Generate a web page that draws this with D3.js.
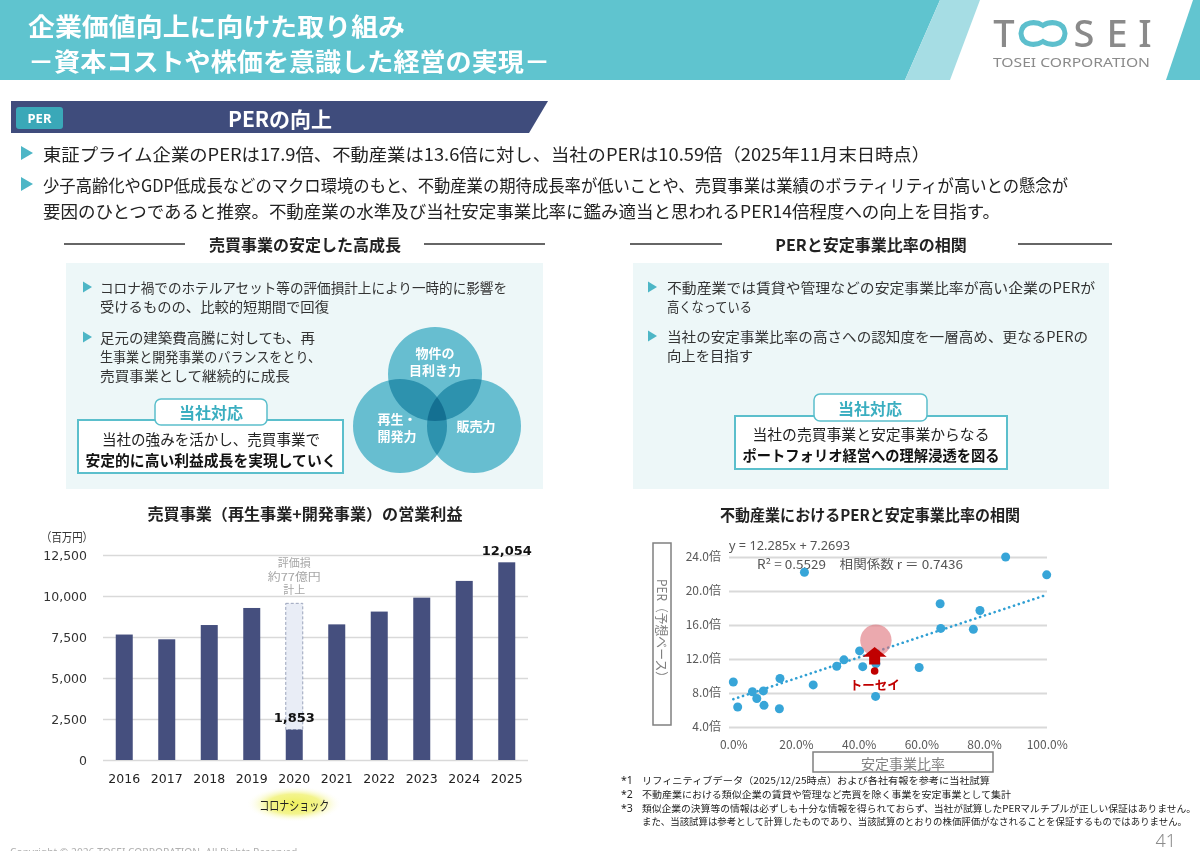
<!DOCTYPE html>
<html><head><meta charset="utf-8">
<script src="https://cdn.jsdelivr.net/npm/d3@7"></script>
<style>html,body{margin:0;padding:0;background:#fff;overflow:hidden}svg{display:block}</style>
</head><body>
<svg id="c" width="1200" height="851"></svg>
<script>
// ---------------- data ----------------
const barYears = ["2016","2017","2018","2019","2020","2021","2022","2023","2024","2025"];
const barValues = [7650, 7360, 8230, 9270, 1853, 8270, 9050, 9900, 10920, 12054];
const barYTicks = [0, 2500, 5000, 7500, 10000, 12500];
const impairment2020 = 7700;
const barLabelYears = ["2020", "2025"];

const stableRatio = [0.000,0.014,0.061,0.075,0.096,0.098,0.149,0.147,0.227,0.255,0.330,0.353,0.403,0.413,0.455,0.454,0.593,0.660,0.662,0.766,0.787,0.869,1.000];
const perValues   = [9.3, 6.35, 8.15, 7.35, 8.25, 6.55, 9.7, 6.15, 22.2, 8.95, 11.15, 11.9, 12.95, 11.1, 11.45, 7.6, 11.0, 18.5, 15.6, 15.5, 17.7, 24.0, 21.9];
const tosei = {stable: 0.451, per: 10.59, targetPer: 14.2};
const trendSlope = 12.285, trendIntercept = 7.2693;
const perTicks = [4, 8, 12, 16, 20, 24];
const stableTicks = [0, 0.2, 0.4, 0.6, 0.8, 1.0];

const JP = "'Noto Sans CJK JP','Noto Sans',sans-serif";
const NUM = "'DejaVu Sans',Verdana,sans-serif";
const svg = d3.select("#c");

function txt(p, s, x, y, o = {}) {
  const t = p.append("text").attr("x", x).attr("y", y).text(s)
    .attr("font-family", o.ff || JP).attr("font-size", o.fs || 14)
    .attr("fill", o.fill || "#222").attr("font-weight", o.fw || 400)
    .attr("text-anchor", o.anchor || "start").attr("dominant-baseline", o.db || "central");
  if (o.len) t.attr("textLength", o.len).attr("lengthAdjust", "spacingAndGlyphs");
  return t;
}
function tri(p, x, y, w, h, c) {
  p.append("path").attr("d", `M${x},${y-h/2}L${x+w},${y}L${x},${y+h/2}Z`).attr("fill", c);
}

// ---------------- header ----------------
svg.append("path").attr("d","M0,0L940,0L905,80L0,80Z").attr("fill","#5fc4cf");
svg.append("path").attr("d","M940,0L980,0L950,80L905,80Z").attr("fill","#a6dde4");
svg.append("path").attr("d","M1193,0L1200,0L1200,80L1166,80Z").attr("fill","#62c5d0");
txt(svg,"企業価値向上に向けた取り組み",28,25,{fs:25,fw:700,fill:"#fff",len:377});
txt(svg,"－資本コストや株価を意識した経営の実現－",28,60,{fs:25,fw:700,fill:"#fff",len:522});
// logo
const logo = svg.append("g");
[["T",1004],["S",1084],["E",1117],["I",1145]].forEach(([l,x]) =>
  txt(logo,l,x,47,{ff:"'Noto Sans',sans-serif",fs:38,fw:500,fill:"#8a8a8a",anchor:"middle",db:"alphabetic"}));
logo.append("path").attr("d","M1043,25.5C1037,21.5 1022,20 1021,33.5C1022,47 1037,45.5 1043,41.5C1049,45.5 1064,47 1065,33.5C1064,20 1049,21.5 1043,25.5Z")
  .attr("fill","none").attr("stroke","#5dbfcd").attr("stroke-width",5);
txt(logo,"TOSEI CORPORATION",993,62,{ff:"'Noto Sans',sans-serif",fs:12.5,fill:"#8a8a8a",len:157});

// ---------------- section banner ----------------
svg.append("path").attr("d","M11,101L548,101L529,133L11,133Z").attr("fill","#3f4c7c");
svg.append("rect").attr("x",16).attr("y",107).attr("width",47).attr("height",22).attr("rx",3).attr("fill","#3aa8b8");
txt(svg,"PER",39.5,118,{ff:"'Noto Sans',sans-serif",fs:13,fw:700,fill:"#fff",anchor:"middle"});
txt(svg,"PERの向上",280,118,{fs:21,fw:700,fill:"#fff",anchor:"middle"});

// top bullets
tri(svg,21,153,12,14,"#4db6c6");
txt(svg,"東証プライム企業のPERは17.9倍、不動産業は13.6倍に対し、当社のPERは10.59倍（2025年11月末日時点）",43,153,{fs:17.5,len:887});
tri(svg,21,184,12,14,"#4db6c6");
txt(svg,"少子高齢化やGDP低成長などのマクロ環境のもと、不動産業の期待成長率が低いことや、売買事業は業績のボラティリティが高いとの懸念が",43,184,{fs:17.5,len:1025});
txt(svg,"要因のひとつであると推察。不動産業の水準及び当社安定事業比率に鑑み適当と思われるPER14倍程度への向上を目指す。",43,210,{fs:17.5,len:957});

// section headings
[[64,185],[424,545],[630,722],[1018,1112]].forEach(([a,b]) =>
  svg.append("line").attr("x1",a).attr("x2",b).attr("y1",244).attr("y2",244).attr("stroke","#333").attr("stroke-width",1.5));
txt(svg,"売買事業の安定した高成長",305,244,{fs:16,fw:700,anchor:"middle"});
txt(svg,"PERと安定事業比率の相関",871,244,{fs:16,fw:700,anchor:"middle"});

// panels
svg.append("rect").attr("x",66).attr("y",263).attr("width",477).attr("height",226).attr("fill","#edf7f8");
svg.append("rect").attr("x",633).attr("y",263).attr("width",476).attr("height",226).attr("fill","#edf7f8");

// left panel text
tri(svg,83,287,9,11,"#4db6c6");
txt(svg,"コロナ禍でのホテルアセット等の評価損計上により一時的に影響を",100,287,{fs:14,fill:"#333",len:407});
txt(svg,"受けるものの、比較的短期間で回復",100,306,{fs:14,fill:"#333",len:229});
tri(svg,83,337,9,11,"#4db6c6");
txt(svg,"足元の建築費高騰に対しても、再",100,337,{fs:14,fill:"#333",len:215});
txt(svg,"生事業と開発事業のバランスをとり、",100,356,{fs:14,fill:"#333",len:221});
txt(svg,"売買事業として継続的に成長",100,375,{fs:14,fill:"#333",len:190});

// venn
const venn = svg.append("g");
[[435,374],[400,426],[474,426]].forEach(([cx,cy]) =>
  venn.append("circle").attr("cx",cx).attr("cy",cy).attr("r",47).attr("fill","#6fc4d6").style("mix-blend-mode","multiply"));
txt(svg,"物件の",435,352,{fs:13,fw:700,fill:"#fff",anchor:"middle"});
txt(svg,"目利き力",435,369,{fs:13,fw:700,fill:"#fff",anchor:"middle"});
txt(svg,"再生・",397,418,{fs:13,fw:700,fill:"#fff",anchor:"middle"});
txt(svg,"開発力",397,435,{fs:13,fw:700,fill:"#fff",anchor:"middle"});
txt(svg,"販売力",476,425,{fs:13,fw:700,fill:"#fff",anchor:"middle"});

// left response box
svg.append("rect").attr("x",78).attr("y",420).attr("width",265).attr("height",53).attr("fill","#fff").attr("stroke","#5bbfcc").attr("stroke-width",2);
svg.append("rect").attr("x",155).attr("y",399).attr("width",112).attr("height",26).attr("rx",6).attr("fill","#fff").attr("stroke","#5bbfcc").attr("stroke-width",1.5);
txt(svg,"当社対応",211,412,{fs:16,fw:700,fill:"#3aaec0",anchor:"middle"});
txt(svg,"当社の強みを活かし、売買事業で",211,438,{fs:15,fill:"#222",anchor:"middle",len:218});
txt(svg,"安定的に高い利益成長を実現していく",211,459,{fs:15,fw:700,fill:"#111",anchor:"middle",len:251});

// right panel text
tri(svg,648,287,9,11,"#4db6c6");
txt(svg,"不動産業では賃貸や管理などの安定事業比率が高い企業のPERが",667,287,{fs:14,fill:"#333",len:428});
txt(svg,"高くなっている",667,306,{fs:14,fill:"#333",len:85});
tri(svg,648,336,9,11,"#4db6c6");
txt(svg,"当社の安定事業比率の高さへの認知度を一層高め、更なるPERの",667,336,{fs:14,fill:"#333",len:421});
txt(svg,"向上を目指す",667,355,{fs:14,fill:"#333",len:86});

svg.append("rect").attr("x",735).attr("y",416).attr("width",272).attr("height",53).attr("fill","#fff").attr("stroke","#5bbfcc").attr("stroke-width",2);
svg.append("rect").attr("x",814).attr("y",394).attr("width",113).attr("height",27).attr("rx",6).attr("fill","#fff").attr("stroke","#5bbfcc").attr("stroke-width",1.5);
txt(svg,"当社対応",870,408,{fs:16,fw:700,fill:"#3aaec0",anchor:"middle"});
txt(svg,"当社の売買事業と安定事業からなる",871,433,{fs:15,fill:"#222",anchor:"middle",len:237});
txt(svg,"ポートフォリオ経営への理解浸透を図る",871,454,{fs:15,fw:700,fill:"#111",anchor:"middle",len:257});

// ---------------- bar chart ----------------
const bx = d3.scaleBand().domain(barYears).range([103, 528]).paddingInner(0.6).paddingOuter(0.3);
const by = d3.scaleLinear().domain([0, 12500]).range([760, 555]);
txt(svg,"売買事業（再生事業+開発事業）の営業利益",305,513,{fs:15.5,fw:700,anchor:"middle",len:315});
txt(svg,"（百万円）",67,536,{fs:12,fill:"#333",anchor:"middle",len:52});

const yAx = svg.append("g").attr("transform","translate(103,0)")
  .call(d3.axisLeft(by).tickValues(barYTicks).tickSize(-425).tickPadding(16).tickFormat(d3.format(",")));
yAx.select(".domain").remove();
yAx.selectAll(".tick line").attr("stroke","#d9d9d9").attr("stroke-width",1.5);
yAx.selectAll(".tick text").attr("font-family",NUM).attr("font-size",12.5).attr("fill","#333");

const xAx = svg.append("g").attr("transform","translate(0,760)")
  .call(d3.axisBottom(bx).tickSize(0));
xAx.select(".domain").remove();
xAx.selectAll(".tick text").attr("y",18).attr("dy",null).attr("dominant-baseline","central")
  .attr("font-family",NUM).attr("font-size",12.5).attr("fill","#222");

// impairment dashed box for 2020
const impIdx = barYears.indexOf("2020");
svg.append("rect").attr("x",bx("2020")).attr("width",bx.bandwidth())
  .attr("y",by(barValues[impIdx] + impairment2020)).attr("height",by(barValues[impIdx]) - by(barValues[impIdx] + impairment2020))
  .attr("fill","#e9edf6").attr("stroke","#9aa3bb").attr("stroke-dasharray","3,2").attr("stroke-width",1);

svg.append("g").selectAll("rect").data(barYears).join("rect")
  .attr("x", d => bx(d)).attr("width", bx.bandwidth())
  .attr("y", (d,i) => by(barValues[i])).attr("height", (d,i) => by(0) - by(barValues[i]))
  .attr("fill","#454f7e");

barLabelYears.forEach(yr => {
  const i = barYears.indexOf(yr);
  txt(svg, d3.format(",")(barValues[i]), bx(yr) + bx.bandwidth()/2, by(barValues[i]) - 12,
    {ff:NUM, fs:13, fw:700, fill:"#111", anchor:"middle"});
});
const ax2020 = bx("2020") + bx.bandwidth()/2;
txt(svg,"評価損",ax2020,562,{fs:11,fill:"#a6a6a6",anchor:"middle"});
txt(svg,"約77億円",ax2020,575.5,{fs:11,fill:"#a6a6a6",anchor:"middle",len:53});
txt(svg,"計上",ax2020,589,{fs:11,fill:"#a6a6a6",anchor:"middle"});

// corona glow
const defs = svg.append("defs");
const rg = defs.append("radialGradient").attr("id","glow");
rg.append("stop").attr("offset","0").attr("stop-color","#eef05c");
rg.append("stop").attr("offset","0.55").attr("stop-color","#f1f27a").attr("stop-opacity",0.85);
rg.append("stop").attr("offset","1").attr("stop-color","#ffffff").attr("stop-opacity",0);
svg.append("ellipse").attr("cx",ax2020).attr("cy",804).attr("rx",48).attr("ry",18).attr("fill","url(#glow)");
txt(svg,"コロナショック",ax2020,804,{fs:13,fill:"#222",anchor:"middle",len:70});

// ---------------- scatter ----------------
const sx = d3.scaleLinear().domain([0, 1]).range([733.3, 1046.7]);
const sy = d3.scaleLinear().domain([4, 24]).range([727, 557]);
txt(svg,"不動産業におけるPERと安定事業比率の相関",870,514,{fs:15.5,fw:700,anchor:"middle",len:300});

const syAx = svg.append("g").attr("transform","translate(729,0)")
  .call(d3.axisLeft(sy).tickValues(perTicks).tickSize(-318).tickPadding(8).tickFormat(d => d.toFixed(1) + "倍"));
syAx.select(".domain").remove();
syAx.selectAll(".tick line").attr("stroke","#d9d9d9").attr("stroke-width",2);
syAx.selectAll(".tick text").attr("font-family",JP).attr("font-size",12).attr("fill","#595959");

const sxAx = svg.append("g").attr("transform","translate(0,727)")
  .call(d3.axisBottom(sx).tickValues(stableTicks).tickSize(0).tickFormat(d3.format(".1%")));
sxAx.select(".domain").remove();
sxAx.selectAll(".tick text").attr("y",16).attr("dy",null).attr("dominant-baseline","central")
  .attr("font-family",JP).attr("font-size",12).attr("fill","#595959");

// axis title boxes
svg.append("rect").attr("x",653).attr("y",543).attr("width",18).attr("height",182).attr("fill","#fff").attr("stroke","#808080").attr("stroke-width",1.5);
txt(svg,"PER（予想ベース）",0,0,{fs:13,fill:"#808080",anchor:"middle",len:104}).attr("transform","translate(662,631) rotate(90)");
svg.append("rect").attr("x",813).attr("y",752).attr("width",180).attr("height",20).attr("fill","#fff").attr("stroke","#808080").attr("stroke-width",1.5);
txt(svg,"安定事業比率",903,763,{fs:14,fill:"#808080",anchor:"middle"});

// equation
txt(svg,"y = 12.285x + 7.2693",729,545,{ff:"'Noto Sans',sans-serif",fs:12.5,fill:"#555",len:121});
txt(svg,"R² = 0.5529　相関係数 r ＝ 0.7436",757,563,{ff:JP,fs:12.5,fill:"#555",len:206});

// trend line
const trendLine = d3.line().x(d => sx(d)).y(d => sy(trendSlope * d + trendIntercept));
svg.append("path").attr("d", trendLine([0, 1])).attr("fill","none").attr("stroke","#2f9fd3")
  .attr("stroke-width",2.6).attr("stroke-linecap","round").attr("stroke-dasharray","0.1,5");

// points
svg.append("g").selectAll("circle").data(stableRatio).join("circle")
  .attr("cx", d => sx(d)).attr("cy", (d,i) => sy(perValues[i])).attr("r",4.5).attr("fill","#37a5d8");

// tosei target
svg.append("circle").attr("cx",sx(tosei.stable + 0.004)).attr("cy",sy(tosei.targetPer)).attr("r",15.7)
  .attr("fill","#dd6f78").attr("fill-opacity",0.6);
const ax = sx(tosei.stable), yTip = sy(13.4), yBase = sy(12.27), yBot = sy(11.35);
svg.append("path").attr("d",`M${ax},${yTip}L${ax+12},${yBase}L${ax+5.5},${yBase}L${ax+5.5},${yBot}L${ax-5.5},${yBot}L${ax-5.5},${yBase}L${ax-12},${yBase}Z`)
  .attr("fill","#c00000");
svg.append("circle").attr("cx",sx(tosei.stable)).attr("cy",sy(tosei.per)).attr("r",3.8).attr("fill","#c00000");
txt(svg,"トーセイ",sx(tosei.stable),684,{fs:12.5,fw:700,fill:"#c00000",anchor:"middle"});

// ---------------- footnotes ----------------
const notes = [
  ["*1","リフィニティブデータ（2025/12/25時点）および各社有報を参考に当社試算",780,348],
  ["*2","不動産業における類似企業の賃貸や管理など売買を除く事業を安定事業として集計",794,369],
  ["*3","類似企業の決算等の情報は必ずしも十分な情報を得られておらず、当社が試算したPERマルチプルが正しい保証はありません。",807.5,554],
  ["","また、当該試算は参考として計算したものであり、当該試算のとおりの株価評価がなされることを保証するものではありません。",821,545]
];
notes.forEach(([k,s,y,len]) => {
  if (k) txt(svg,k,621,y,{ff:"'Noto Sans',sans-serif",fs:10.5,fill:"#222"});
  txt(svg,s,642,y,{fs:9.6,fill:"#222",len:len});
});
txt(svg,"41",1176,840,{ff:"'Noto Sans',sans-serif",fs:18,fw:300,fill:"#8c8c8c",anchor:"end"});
txt(svg,"Copyright © 2026 TOSEI CORPORATION. All Rights Reserved.",10,856,{ff:"'Noto Sans',sans-serif",fs:10.5,fill:"#b0b0b0",db:"alphabetic",len:290});
</script>
</body></html>
